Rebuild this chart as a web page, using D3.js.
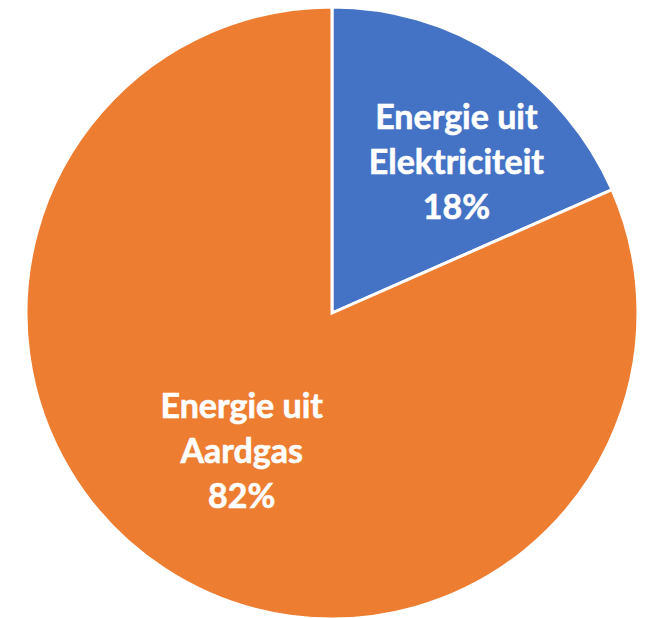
<!DOCTYPE html>
<html lang="nl">
<head>
<meta charset="UTF-8">
<title>Energie</title>
<style>
  body { margin: 0; background: #fff; }
  svg { display: block; }
  .label text { font-family: Lato, "Noto Sans", sans-serif; font-weight: 700; fill: #fff; }
</style>
</head>
<body>
<div id="chart"></div>
<script src="https://d3js.org/d3.v7.min.js"></script>
<script>
const categories = ["Energie uit Elektriciteit", "Energie uit Aardgas"];
const labelLines = [["Energie uit", "Elektriciteit"], ["Energie uit", "Aardgas"]];
const values = [18.4, 81.6];
const colors = ["#4472C4", "#ED7D31"];

const width = 647, height = 618;
const cx = 332, cy = 313, radius = 306;

const svg = d3.select("#chart").append("svg")
    .attr("width", width)
    .attr("height", height);

const g = svg.append("g").attr("transform", `translate(${cx},${cy})`);

const data = categories.map((c, i) => ({ name: c, value: values[i], lines: labelLines[i], color: colors[i] }));
const total = d3.sum(values);

const pie = d3.pie().value(d => d.value).sort(null);
const arc = d3.arc().innerRadius(0).outerRadius(radius);

const arcs = pie(data);

g.selectAll("path")
    .data(arcs)
    .enter()
    .append("path")
    .attr("d", arc)
    .attr("fill", d => d.data.color)
    .attr("stroke", "#fff")
    .attr("stroke-width", 3)
    .attr("stroke-linejoin", "miter");

// label placement (radius factor, angle shift) tuned to look like the original
const labelPos = [{ r: 0.64, shift: 0.11 }, { r: 0.54, shift: 0 }];
const lineH = 45;
const fontSize = 34;

const labels = g.selectAll(".label")
    .data(arcs)
    .enter()
    .append("g")
    .attr("class", "label")
    .attr("transform", (d, i) => {
        const a = (d.startAngle + d.endAngle) / 2 + labelPos[i].shift;
        const r = radius * labelPos[i].r;
        return `translate(${r * Math.sin(a)},${-r * Math.cos(a)})`;
    });

labels.each(function(d) {
    const sel = d3.select(this);
    const lines = d.data.lines.concat([Math.round(d.data.value / total * 100) + "%"]);
    lines.forEach((t, k) => {
        sel.append("text")
            .attr("text-anchor", "middle")
            .attr("x", 0)
            .attr("y", (k - 1) * lineH + 12)
            .attr("stroke", "#fff")
            .attr("stroke-width", 0.6)
            .style("font-size", fontSize + "px")
            .text(t);
    });
});
</script>
</body>
</html>
